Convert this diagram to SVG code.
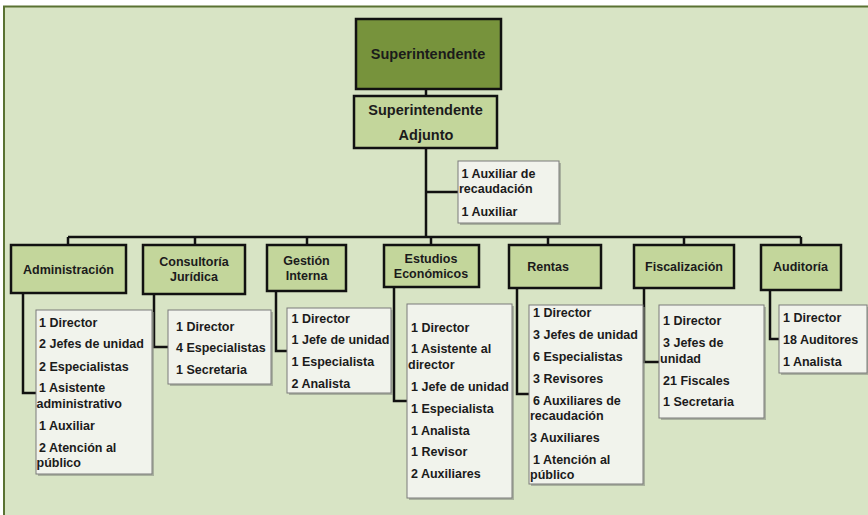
<svg xmlns="http://www.w3.org/2000/svg" width="868" height="515" viewBox="0 0 868 515">
<style>
.t{font-family:"Liberation Sans",Arial,sans-serif;font-weight:bold;fill:#1b1b1b;}
.h{font-size:12.5px;text-anchor:middle;}
.l{font-size:12.5px;}
.top{font-size:14.5px;text-anchor:middle;}
.hb{fill:#c3d69b;stroke:#111;stroke-width:2.5;}
.lb{fill:#f1f3ec;stroke:#7a7a7a;stroke-width:1;}
.sh{fill:#8a8f84;opacity:0.6;}
.c{stroke:#111;stroke-width:2.5;fill:none;}
</style>
<rect x="0" y="0" width="868" height="515" fill="#ffffff"/>
<rect x="4" y="6.5" width="880" height="520" fill="#d8e4c5" stroke="#5a7233" stroke-width="2"/>

<g id="connectors">
<line class="c" x1="426" y1="89" x2="426" y2="96"/>
<line class="c" x1="426" y1="148" x2="426" y2="237"/>
<line class="c" x1="426" y1="192" x2="458" y2="192"/>
<line class="c" x1="68" y1="237" x2="801" y2="237"/>
<line class="c" x1="68" y1="237" x2="68" y2="245"/>
<line class="c" x1="195" y1="237" x2="195" y2="245"/>
<line class="c" x1="307" y1="237" x2="307" y2="245"/>
<line class="c" x1="431" y1="237" x2="431" y2="245"/>
<line class="c" x1="548" y1="237" x2="548" y2="245"/>
<line class="c" x1="684" y1="237" x2="684" y2="245"/>
<line class="c" x1="801" y1="237" x2="801" y2="245"/>
<polyline class="c" points="23,293 23,393 36,393"/>
<polyline class="c" points="154,294 154,347 168,347"/>
<polyline class="c" points="276,291 276,351 287,351"/>
<polyline class="c" points="394,287 394,401 407,401"/>
<polyline class="c" points="517,288 517,394 529,394"/>
<polyline class="c" points="644,288 644,362 659,362"/>
<polyline class="c" points="770,290 770,339 779,339"/>
</g>

<g id="superintendente">
<rect x="356" y="19" width="145" height="70" fill="#77933c" stroke="#111" stroke-width="2.5"/>
<text class="t top" x="428" y="58.5">Superintendente</text>
</g>

<g id="adjunto">
<rect x="354" y="96" width="143" height="52" class="hb"/>
<text class="t top" x="425.5" y="114.5">Superintendente</text>
<text class="t top" x="426" y="139.5">Adjunto</text>
</g>

<g id="aux-adjunto">
<rect class="sh" x="460" y="163" width="101" height="62"/>
<rect class="lb" x="458" y="161" width="101" height="62"/>
<text class="t l" x="461.5" y="178">1 Auxiliar de</text>
<text class="t l" x="459" y="193">recaudación</text>
<text class="t l" x="461.5" y="216">1 Auxiliar</text>
</g>

<g id="administracion">
<rect x="11" y="245" width="115" height="48" class="hb"/>
<text class="t h" x="68.5" y="274">Administración</text>
</g>
<g id="administracion-staff">
<rect class="sh" x="38" y="312" width="116" height="164"/>
<rect class="lb" x="36" y="310" width="116" height="164"/>
<text class="t l" x="39" y="326.5">1 Director</text>
<text class="t l" x="39" y="348">2 Jefes de unidad</text>
<text class="t l" x="39" y="370.5">2 Especialistas</text>
<text class="t l" x="39" y="392">1 Asistente</text>
<text class="t l" x="36.5" y="408">administrativo</text>
<text class="t l" x="39" y="429.5">1 Auxiliar</text>
<text class="t l" x="39" y="451.5">2 Atención al</text>
<text class="t l" x="36.5" y="467">público</text>
</g>

<g id="consultoria">
<rect x="143" y="245" width="102" height="49" class="hb"/>
<text class="t h" x="194" y="266">Consultoría</text>
<text class="t h" x="194" y="281">Jurídica</text>
</g>
<g id="consultoria-staff">
<rect class="sh" x="170" y="312" width="103" height="74"/>
<rect class="lb" x="168" y="310" width="103" height="74"/>
<text class="t l" x="176" y="330.5">1 Director</text>
<text class="t l" x="176" y="352">4 Especialistas</text>
<text class="t l" x="176" y="373.5">1 Secretaria</text>
</g>

<g id="gestion">
<rect x="267" y="245" width="79" height="46" class="hb"/>
<text class="t h" x="306.5" y="265">Gestión</text>
<text class="t h" x="306.5" y="280">Interna</text>
</g>
<g id="gestion-staff">
<rect class="sh" x="289" y="310" width="104" height="85"/>
<rect class="lb" x="287" y="308" width="104" height="85"/>
<text class="t l" x="291.5" y="322.5">1 Director</text>
<text class="t l" x="291.5" y="343.5">1 Jefe de unidad</text>
<text class="t l" x="291.5" y="365.5">1 Especialista</text>
<text class="t l" x="291.5" y="387.5">2 Analista</text>
</g>

<g id="estudios">
<rect x="384" y="245" width="95" height="42" class="hb"/>
<text class="t h" x="431" y="262.5">Estudios</text>
<text class="t h" x="431" y="277.5">Económicos</text>
</g>
<g id="estudios-staff">
<rect class="sh" x="409" y="306" width="105" height="194"/>
<rect class="lb" x="407" y="304" width="105" height="194"/>
<text class="t l" x="411" y="332">1 Director</text>
<text class="t l" x="411" y="353">1 Asistente al</text>
<text class="t l" x="408" y="369">director</text>
<text class="t l" x="411" y="390.5">1 Jefe de unidad</text>
<text class="t l" x="411" y="412.5">1 Especialista</text>
<text class="t l" x="411" y="434.5">1 Analista</text>
<text class="t l" x="411" y="456">1 Revisor</text>
<text class="t l" x="411" y="478">2 Auxiliares</text>
</g>

<g id="rentas">
<rect x="509" y="245" width="92" height="43" class="hb"/>
<text class="t h" x="548" y="271">Rentas</text>
</g>
<g id="rentas-staff">
<rect class="sh" x="531" y="307" width="114" height="179"/>
<rect class="lb" x="529" y="305" width="114" height="179"/>
<text class="t l" x="533" y="317">1 Director</text>
<text class="t l" x="533" y="338.5">3 Jefes de unidad</text>
<text class="t l" x="533" y="360.5">6 Especialistas</text>
<text class="t l" x="533" y="382.5">3 Revisores</text>
<text class="t l" x="533" y="404.5">6 Auxiliares de</text>
<text class="t l" x="530" y="419.5">recaudación</text>
<text class="t l" x="530" y="442">3 Auxiliares</text>
<text class="t l" x="533" y="464">1 Atención al</text>
<text class="t l" x="530" y="479">público</text>
</g>

<g id="fiscalizacion">
<rect x="634" y="245" width="100" height="43" class="hb"/>
<text class="t h" x="684" y="270.5">Fiscalización</text>
</g>
<g id="fiscalizacion-staff">
<rect class="sh" x="661" y="307" width="105" height="113"/>
<rect class="lb" x="659" y="305" width="105" height="113"/>
<text class="t l" x="663" y="325">1 Director</text>
<text class="t l" x="663" y="346.5">3 Jefes de</text>
<text class="t l" x="660" y="362.5">unidad</text>
<text class="t l" x="663" y="384.5">21 Fiscales</text>
<text class="t l" x="663" y="406">1 Secretaria</text>
</g>

<g id="auditoria">
<rect x="761" y="245" width="80" height="45" class="hb"/>
<text class="t h" x="800.5" y="270.5">Auditoría</text>
</g>
<g id="auditoria-staff">
<rect class="sh" x="781" y="307" width="88" height="68"/>
<rect class="lb" x="779" y="305" width="88" height="68"/>
<text class="t l" x="783" y="322">1 Director</text>
<text class="t l" x="783" y="343.5">18 Auditores</text>
<text class="t l" x="783" y="365.5">1 Analista</text>
</g>
</svg>
